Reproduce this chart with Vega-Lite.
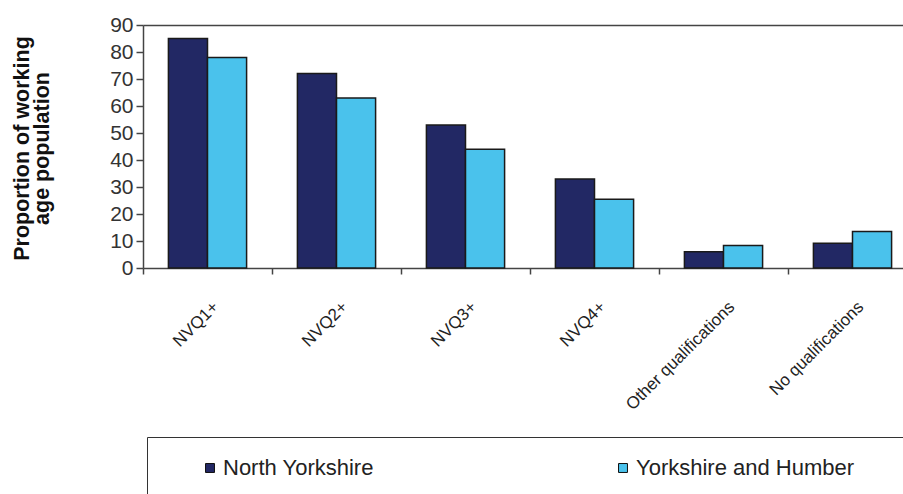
{
  "$schema": "https://vega.github.io/schema/vega-lite/v6.json",
  "autosize": "none",
  "width": 760,
  "height": 243,
  "padding": {"left": 143, "top": 25, "right": 0, "bottom": 226},
  "background": "white",
  "view": {"stroke": null},
  "data": {
    "values": [
      {"qualification": "NVQ1+", "area": "North Yorkshire", "value": 85},
      {"qualification": "NVQ1+", "area": "Yorkshire and Humber", "value": 78},
      {"qualification": "NVQ2+", "area": "North Yorkshire", "value": 72},
      {"qualification": "NVQ2+", "area": "Yorkshire and Humber", "value": 63},
      {"qualification": "NVQ3+", "area": "North Yorkshire", "value": 53},
      {"qualification": "NVQ3+", "area": "Yorkshire and Humber", "value": 44},
      {"qualification": "NVQ4+", "area": "North Yorkshire", "value": 33},
      {"qualification": "NVQ4+", "area": "Yorkshire and Humber", "value": 25.5},
      {"qualification": "Other qualifications", "area": "North Yorkshire", "value": 6},
      {"qualification": "Other qualifications", "area": "Yorkshire and Humber", "value": 8.3},
      {"qualification": "No qualifications", "area": "North Yorkshire", "value": 9.2},
      {"qualification": "No qualifications", "area": "Yorkshire and Humber", "value": 13.5}
    ]
  },
  "mark": {"type": "bar", "stroke": "#1a1a1a", "strokeWidth": 1.5},
  "encoding": {
    "x": {
      "field": "qualification",
      "type": "nominal",
      "sort": ["NVQ1+", "NVQ2+", "NVQ3+", "NVQ4+", "Other qualifications", "No qualifications"],
      "scale": {"paddingInner": 0, "paddingOuter": 0, "range": [0, 774]},
      "axis": {
        "title": null,
        "domainColor": "#444",
        "domainWidth": 1.5,
        "tickBand": "extent",
        "tickColor": "#444",
        "tickWidth": 1.5,
        "tickSize": 6,
        "labelAngle": -45,
        "labelAlign": "right",
        "labelBaseline": "middle",
        "labelFont": "Liberation Sans Narrow, Liberation Sans",
        "labelFontSize": 17,
        "labelColor": "#222",
        "labelOffset": 8,
        "labelPadding": 30,
        "labelLimit": 300
      }
    },
    "xOffset": {
      "field": "area",
      "type": "nominal",
      "sort": ["North Yorkshire", "Yorkshire and Humber"],
      "scale": {"paddingInner": 0, "paddingOuter": 0.65}
    },
    "y": {
      "field": "value",
      "type": "quantitative",
      "scale": {"domain": [0, 90], "nice": false},
      "axis": {
        "values": [0, 10, 20, 30, 40, 50, 60, 70, 80, 90],
        "title": ["Proportion of working", "age population"],
        "titleFont": "Liberation Sans",
        "titleFontWeight": "bold",
        "titleFontSize": 21.5,
        "titleColor": "#111",
        "titleAngle": -90,
        "titleAlign": "center",
        "titleBaseline": "middle",
        "titleLineHeight": 20,
        "titleX": -121,
        "titleY": 123,
        "domainColor": "#444",
        "domainWidth": 1.5,
        "tickColor": "#444",
        "tickWidth": 1.5,
        "tickSize": 7,
        "labelFont": "Liberation Sans",
        "labelFontSize": 21,
        "labelColor": "#333",
        "labelPadding": 3,
        "grid": true,
        "gridColor": "#444",
        "gridWidth": 1.5,
        "gridOpacity": {"condition": {"test": "datum.value == 90", "value": 1}, "value": 0}
      }
    },
    "color": {
      "field": "area",
      "type": "nominal",
      "sort": ["North Yorkshire", "Yorkshire and Humber"],
      "scale": {"domain": ["North Yorkshire", "Yorkshire and Humber"], "range": ["#222864", "#4ac2ec"]},
      "legend": {
        "title": " ",
        "titleOrient": "right",
        "titlePadding": 40,
        "titleFontSize": 22,
        "orient": "none",
        "legendX": 4,
        "legendY": 412,
        "direction": "horizontal",
        "columns": 2,
        "padding": 20,
        "strokeColor": "#333",
        "fillColor": "white",
        "symbolType": "square",
        "symbolSize": 80,
        "symbolStrokeColor": "#111",
        "symbolStrokeWidth": 1,
        "symbolOffset": 32,
        "labelOffset": 2,
        "labelFont": "Liberation Sans",
        "labelFontSize": 22,
        "labelColor": "#222",
        "columnPadding": 206,
        "labelLimit": 400
      }
    }
  }
}
